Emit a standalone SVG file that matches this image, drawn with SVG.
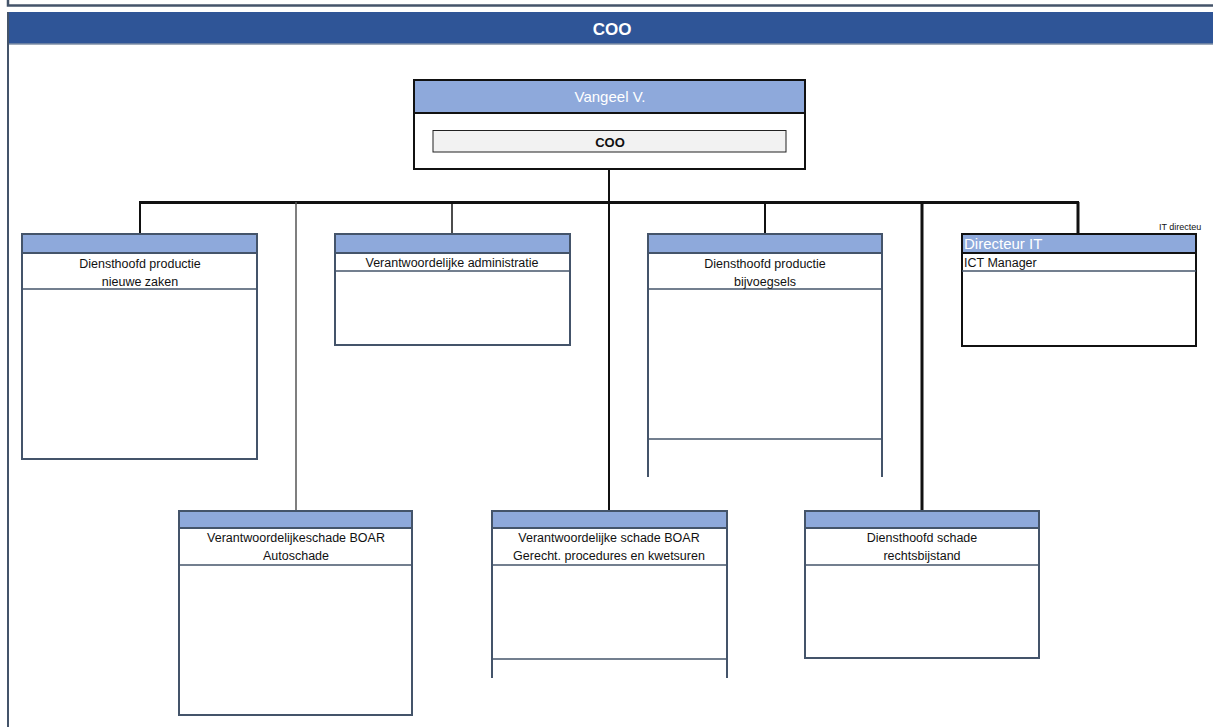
<svg xmlns="http://www.w3.org/2000/svg" width="1213" height="727" viewBox="0 0 1213 727">
<style>
.t{font-family:"Liberation Sans",Arial,sans-serif;font-size:12.5px;fill:#111;text-anchor:middle}
.box{fill:#fff;stroke:#44546A;stroke-width:2}
.hdr{fill:#8EA9DB;stroke:#44546A;stroke-width:2}
.sep{stroke:#44546A;stroke-width:1.5}
.c{stroke:#111;fill:none}
</style>
<rect x="0" y="0" width="1213" height="727" fill="#fff"/>
<g id="frame">
<path d="M8 0 V5.5 H1213" fill="none" stroke="#44546A" stroke-width="2.5"/>
<rect x="7" y="12" width="1206" height="32" fill="#2F5597"/>
<line x1="7" y1="44" x2="1213" y2="44" stroke="#7F8FA6" stroke-width="1.5"/>
<line x1="8" y1="12" x2="8" y2="727" stroke="#44546A" stroke-width="2"/>
<text x="612" y="35" font-family="'Liberation Sans',Arial,sans-serif" font-size="17" font-weight="bold" fill="#fff" text-anchor="middle">COO</text>
</g>
<g id="connectors">
<line class="c" x1="609" y1="169" x2="609" y2="510" stroke-width="2"/>
<line class="c" x1="139" y1="202.5" x2="1079" y2="202.5" stroke-width="3"/>
<line class="c" x1="140" y1="202" x2="140" y2="233" stroke-width="2"/>
<line x1="296" y1="202" x2="296" y2="510" stroke="#555" stroke-width="1.5"/>
<line class="c" x1="452" y1="202" x2="452" y2="233" stroke-width="1.5"/>
<line class="c" x1="765" y1="202" x2="765" y2="233" stroke-width="2"/>
<line class="c" x1="922" y1="202" x2="922" y2="510" stroke-width="3"/>
<line class="c" x1="1078" y1="202" x2="1078" y2="233" stroke-width="3"/>
</g>
<g id="node-vangeel">
<rect x="414" y="80" width="391" height="89" fill="#fff" stroke="#111" stroke-width="2"/>
<rect x="414" y="80" width="391" height="33" fill="#8EA9DB" stroke="#111" stroke-width="2"/>
<text x="610" y="102" font-family="'Liberation Sans',Arial,sans-serif" font-size="15" fill="#fff" text-anchor="middle">Vangeel V.</text>
<rect x="433" y="130.5" width="353" height="21.5" fill="#F2F2F2" stroke="#222" stroke-width="1"/>
<text x="610" y="147" font-family="'Liberation Sans',Arial,sans-serif" font-size="13" font-weight="bold" fill="#111" text-anchor="middle">COO</text>
</g>
<g id="node-nieuwe-zaken">
<rect class="box" x="22" y="234" width="235" height="225"/>
<rect class="hdr" x="22" y="234" width="235" height="19"/>
<line class="sep" x1="22" y1="289" x2="257" y2="289"/>
<text class="t" x="140" y="268">Diensthoofd productie</text>
<text class="t" x="140" y="286">nieuwe zaken</text>
</g>
<g id="node-administratie">
<rect class="box" x="335" y="234" width="235" height="111"/>
<rect class="hdr" x="335" y="234" width="235" height="19"/>
<line class="sep" x1="335" y1="271" x2="570" y2="271"/>
<text class="t" x="452" y="267">Verantwoordelijke administratie</text>
</g>
<g id="node-bijvoegsels">
<path d="M648 477 V234 H882 V477" fill="#fff" stroke="#44546A" stroke-width="2"/>
<rect class="hdr" x="648" y="234" width="234" height="19"/>
<line class="sep" x1="648" y1="289" x2="882" y2="289"/>
<line class="sep" x1="648" y1="439" x2="882" y2="439"/>
<text class="t" x="765" y="268">Diensthoofd productie</text>
<text class="t" x="765" y="286">bijvoegsels</text>
</g>
<g id="node-directeur-it">
<rect x="962" y="234" width="234" height="112" fill="#fff" stroke="#111" stroke-width="2"/>
<rect x="962" y="234" width="234" height="19" fill="#8EA9DB" stroke="#111" stroke-width="2"/>
<line x1="962" y1="271" x2="1196" y2="271" stroke="#44546A" stroke-width="1.5"/>
<text x="964" y="248.5" font-family="'Liberation Sans',Arial,sans-serif" font-size="15" fill="#fff">Directeur IT</text>
<text x="964" y="267" font-family="'Liberation Sans',Arial,sans-serif" font-size="12.5" fill="#111">ICT Manager</text>
<text x="1159" y="230" font-family="'Liberation Sans',Arial,sans-serif" font-size="9" fill="#111">IT directeu</text>
</g>
<g id="node-autoschade">
<rect class="box" x="179" y="511" width="233" height="204"/>
<rect class="hdr" x="179" y="511" width="233" height="17"/>
<line class="sep" x1="179" y1="565" x2="412" y2="565"/>
<text class="t" x="296" y="542">Verantwoordelijkeschade BOAR</text>
<text class="t" x="296" y="560">Autoschade</text>
</g>
<g id="node-gerecht">
<path d="M492 678 V511 H727 V678" fill="#fff" stroke="#44546A" stroke-width="2"/>
<rect class="hdr" x="492" y="511" width="235" height="17"/>
<line class="sep" x1="492" y1="565" x2="727" y2="565"/>
<line class="sep" x1="492" y1="659" x2="727" y2="659"/>
<text class="t" x="609" y="542">Verantwoordelijke schade BOAR</text>
<text class="t" x="609" y="560">Gerecht. procedures en kwetsuren</text>
</g>
<g id="node-rechtsbijstand">
<rect class="box" x="805" y="511" width="234" height="147"/>
<rect class="hdr" x="805" y="511" width="234" height="17"/>
<line class="sep" x1="805" y1="565" x2="1039" y2="565"/>
<text class="t" x="922" y="542">Diensthoofd schade</text>
<text class="t" x="922" y="560">rechtsbijstand</text>
</g>
</svg>
